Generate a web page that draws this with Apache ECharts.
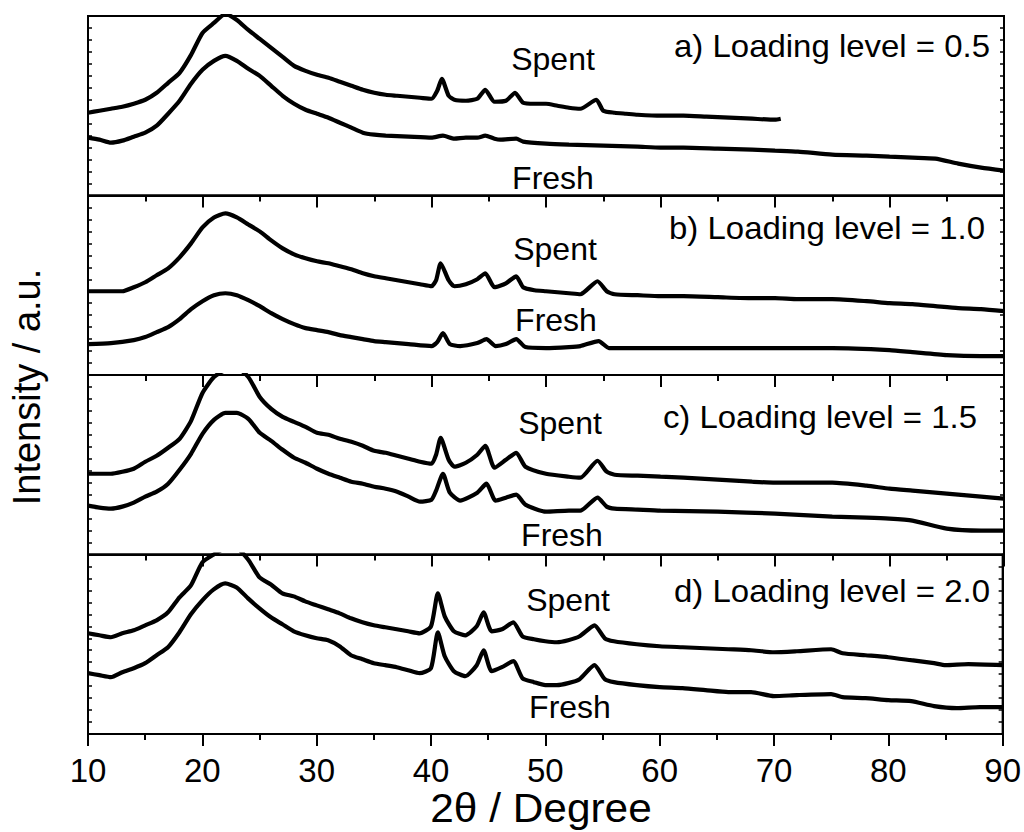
<!DOCTYPE html>
<html>
<head>
<meta charset="utf-8">
<script src="https://cdn.jsdelivr.net/npm/echarts@6/dist/echarts.min.js"></script>
<style>html,body{margin:0;padding:0;background:#fff}#c{width:1024px;height:832px}</style>
</head>
<body>
<div id="c"></div>
<script>
// x tick labels
const xTicks = [10, 20, 30, 40, 50, 60, 70, 80, 90];
const panelLabels = ['a) Loading level = 0.5', 'b) Loading level = 1.0', 'c) Loading level = 1.5', 'd) Loading level = 2.0'];
const seriesNames = ['Spent', 'Fresh'];
const xTitle = '2θ / Degree';
const yTitle = 'Intensity / a.u.';

// [2θ, intensity (a.u.)]
const spentA = [[10,83],[11,85],[12,87],[13,89],[14,92],[15,96],[16,103],[17,113],[18,123],[19,141],[20,163],[21,173],[22,182],[23,176],[24,166],[25,157],[26,148],[27,139],[28,130],[29,125],[30,121],[31,118],[32,114],[33,110],[34,106],[35,103],[36,101],[37,100],[38,99],[39,98],[40,97],[40.5,105],[40.9,117],[41.5,100],[42,96],[43,95],[44,97],[44.7,106],[45.5,94],[46.5,95],[47.3,103],[48,93],[49,92],[50,92],[51,90],[52,88],[53,87],[54.4,96],[55,85],[56,83],[57,82],[58,81],[60,80],[62,80],[64,79],[66,78],[68,77],[70,76],[70.5,77]];
const freshA = [[10,58],[11,56],[12,53],[13,55],[14,59],[15,63],[16,70],[17,82],[18,95],[19,112],[20,126],[21,135],[22,140],[23,135],[24,127],[25,120],[26,110],[27,100],[28,92],[29,86],[30,82],[31,78],[32,73],[33,68],[34,63],[35,61],[36,60],[38,59],[40,58],[41,60],[42,57],[43,58],[44,58],[44.7,60],[45.5,57],[46,56],[47.4,57],[48,54],[50,52],[52,51],[55,50],[58,49],[60,48],[62,48],[65,47],[68,46],[70,45],[72,44],[75,41],[78,40],[80,39],[82,38],[84,37],[86,32],[88,28],[90,25]];

const spentB = [[10,84],[11,84],[12,84],[13,84],[14,88],[15,93],[16,100],[17,107],[18,118],[19,132],[20,148],[21,158],[22,162],[23,158],[24,151],[25,144],[26,135],[27,127],[28,121],[29,117],[30,114],[31,112],[32,109],[33,106],[34,102],[35,99],[36,97],[37,95],[38,93],[39,91],[40,89],[40.4,95],[40.8,112],[41.5,95],[42,89],[43,91],[44,96],[44.7,102],[45.5,88],[46.5,92],[47.4,99],[48,88],[49,85],[50,84],[51,83],[52,82],[53,81],[54.5,94],[55.3,84],[56,81],[58,80],[60,79],[62,79],[65,78],[68,77],[70,77],[72,76],[75,76],[78,74],[80,72],[82,71],[84,69],[86,67],[88,66],[90,64]];
const freshB = [[10,31],[12,32],[14,35],[15,38],[16,43],[17,48],[18,56],[19,66],[20,74],[21,80],[22,82],[23,80],[24,75],[25,69],[26,62],[27,56],[28,51],[29,47],[30,45],[31,43],[32,40],[33,38],[34,36],[35,34],[36,33],[38,31],[40,29],[40.5,33],[41,42],[41.6,31],[42.5,29],[44,32],[44.8,36],[45.6,29],[46.5,31],[47.4,36],[48.2,28],[50,27],[52,28],[53,29],[54.6,34],[55.5,27],[58,27],[60,27],[65,27],[70,27],[75,27],[80,25],[82,23],[85,20],[88,19],[90,19]];

const spentC = [[10,81],[11,81],[12,81],[13,83],[14,86],[15,93],[16,99],[17,107],[18,116],[19,134],[20,162],[21,178],[22,185],[23,187],[24,178],[25,158],[26,146],[27,138],[28,133],[29,128],[30,122],[31,120],[32,116],[33,113],[34,109],[35,104],[36,102],[37,99],[38,96],[39,93],[40,91],[40.4,100],[40.8,117],[41.5,95],[42,88],[43,92],[44,100],[44.7,109],[45.5,87],[46.5,95],[47.4,102],[48.2,88],[50,81],[52,78],[53,77],[54.5,94],[55.3,83],[56,80],[58,79],[60,78],[62,77],[65,75],[68,73],[70,72],[75,72],[78,69],[80,66],[82,64],[85,61],[88,58],[90,56]];
const freshC = [[10,49],[11,47],[12,46],[13,48],[14,52],[15,58],[16,63],[17,71],[18,85],[19,101],[20,121],[21,135],[22,142],[23,142],[24,136],[25,122],[26,114],[27,105],[28,97],[29,92],[30,86],[31,81],[32,77],[33,73],[34,71],[35,68],[36,66],[37,63],[38,58],[39,53],[40,55],[40.4,64],[41,81],[41.6,62],[42.5,54],[44,62],[44.8,71],[45.6,54],[46.5,57],[47.4,60],[48.2,50],[50,43],[52,44],[53,44],[54.5,57],[55.3,48],[56,46],[58,45],[60,44],[65,43],[70,41],[75,38],[78,37],[80,36],[82,34],[85,26],[88,24],[90,24]];

const spentD = [[10,101],[11,99],[12,97],[13,101],[14,104],[15,109],[16,114],[17,122],[18,137],[19,149],[20,172],[21,180],[22,186],[23,186],[24,175],[25,157],[26,150],[27,141],[28,138],[29,133],[30,129],[31,125],[32,121],[33,116],[34,112],[35,109],[36,107],[37,105],[38,103],[39,101],[40,108],[40.6,141],[41.2,118],[42,103],[43,99],[44,108],[44.6,122],[45.3,103],[46.2,105],[47.2,112],[48,98],[49,95],[50,93],[51,92],[52,94],[53,98],[54.3,109],[55.2,96],[56,93],[58,90],[60,88],[62,87],[64,86],[66,85],[68,84],[70,82],[72,83],[75,85],[76,81],[78,79],[80,77],[82,74],[84,71],[85,69],[87,70],[90,69]];
const freshD = [[10,61],[11,59],[12,57],[13,62],[14,66],[15,71],[16,79],[17,87],[18,102],[19,120],[20,134],[21,145],[22,151],[23,147],[24,136],[25,126],[26,117],[27,110],[28,103],[29,99],[30,96],[31,94],[32,88],[33,79],[34,75],[35,71],[36,69],[37,67],[38,64],[39,61],[40,66],[40.6,102],[41.2,78],[42,63],[43,58],[44,69],[44.6,84],[45.3,63],[46.2,67],[47.2,73],[48,56],[49,52],[50,49],[51,49],[52,51],[53,55],[54.3,69],[55.2,55],[56,52],[58,49],[60,47],[62,46],[64,44],[66,42],[68,42],[70,38],[72,39],[75,40],[76,37],[78,36],[80,34],[82,33],[84,28],[86,26],[88,27],[90,27]];

const panels = [[spentA, freshA], [spentB, freshB], [spentC, freshC], [spentD, freshD]];

const FONT = '"Liberation Sans", Arial, Helvetica, sans-serif';
const chart = echarts.init(document.getElementById('c'), null, {renderer: 'svg'});

const gTop = 16, gH = 179.5, gLeft = 88, gRight = 20;
const grids = [], xAxes = [], yAxes = [], series = [];
for (let i = 0; i < 4; i++) {
  grids.push({left: gLeft, right: gRight, top: gTop + i * gH, height: gH, show: true, borderColor: '#000', borderWidth: 2, backgroundColor: 'transparent'});
  xAxes.push({
    gridIndex: i, type: 'value', min: xTicks[0], max: xTicks[xTicks.length - 1], interval: 10,
    axisLine: {show: true, lineStyle: {color: '#000', width: 2}},
    axisTick: {show: true, inside: false, length: 12, lineStyle: {color: '#000', width: 2}},
    minorTick: {show: true, splitNumber: 2, length: 6, lineStyle: {color: '#000', width: 2}},
    splitLine: {show: false},
    axisLabel: {show: i === 3, fontSize: 33, color: '#000', fontFamily: FONT, margin: 20}
  });
}
for (let side = 0; side < 2; side++) {
  for (let i = 0; i < 4; i++) {
    yAxes.push({
      gridIndex: i, type: 'value', min: 0, max: 180, interval: 12, position: side === 0 ? 'left' : 'right',
      axisLine: {show: true, lineStyle: {color: '#000', width: 2}},
      axisTick: {show: true, inside: true, length: 4, lineStyle: {color: '#000', width: 1.5}},
      axisLabel: {show: false}, splitLine: {show: false}
    });
  }
}
panels.forEach((pair, i) => {
  pair.forEach((d, k) => {
    series.push({
      name: seriesNames[k] + ' ' + panelLabels[i], type: 'line', xAxisIndex: i, yAxisIndex: i,
      data: d, showSymbol: false, symbol: 'none', clip: true, smooth: 0.2,
      lineStyle: {color: '#000', width: 4.2}, silent: true
    });
  });
});

const txt = (text, x, y, size, align, sx) => ({type: 'text', x: x, y: y, silent: true, scaleX: sx || 1,
  style: {text: text, fill: '#000', font: size + 'px ' + FONT, align: align, verticalAlign: 'middle', textAlign: align, textVerticalAlign: 'middle'}});

const graphic = [
  txt(panelLabels[0], 990, 46, 32, 'right', 1.03),
  txt(panelLabels[1], 985, 228, 32, 'right', 1.03),
  txt(panelLabels[2], 977, 417, 32, 'right', 1.03),
  txt(panelLabels[3], 990, 591, 32, 'right', 1.03),
  txt(seriesNames[0], 553, 59, 32, 'center'), txt(seriesNames[1], 553, 178, 32, 'center'),
  txt(seriesNames[0], 555, 249, 32, 'center'), txt(seriesNames[1], 556, 320, 32, 'center'),
  txt(seriesNames[0], 560, 423, 32, 'center'), txt(seriesNames[1], 562, 535, 32, 'center'),
  txt(seriesNames[0], 568, 600, 32, 'center'), txt(seriesNames[1], 570, 707, 32, 'center'),
  txt(xTitle, 541, 808, 40, 'center', 1.06),
  Object.assign(txt(yTitle, 27, 387, 38, 'center'), {rotation: Math.PI / 2})
];

chart.setOption({
  animation: false, backgroundColor: '#fff',
  grid: grids, xAxis: xAxes, yAxis: yAxes, series: series, graphic: graphic
});
</script>
</body>
</html>
